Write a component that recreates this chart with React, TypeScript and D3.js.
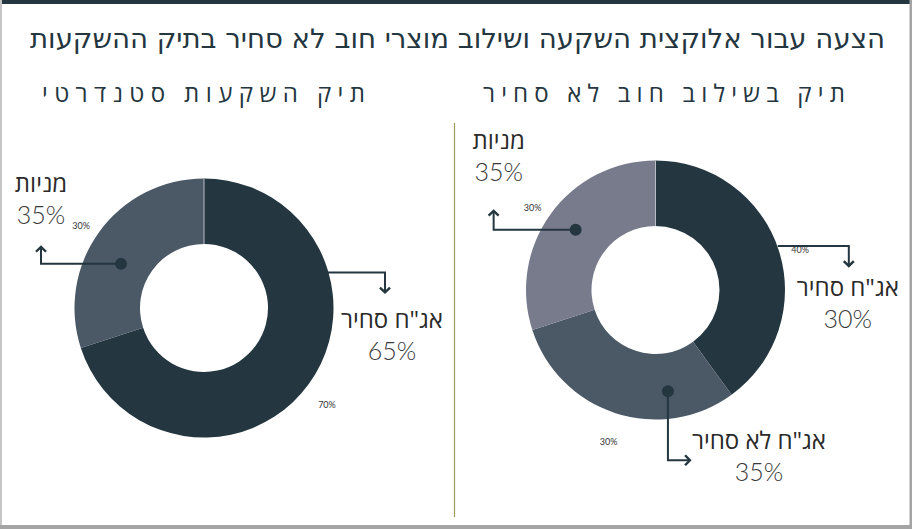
import React from "react";
import * as d3 from "d3";

const title = "הצעה עבור אלוקצית השקעה ושילוב מוצרי חוב לא סחיר בתיק ההשקעות";

const leftTitle = "תיק השקעות סטנדרטי";
const leftNames = ["אג\"ח סחיר", "מניות"];
const leftValues = [70, 30];
const leftShown = ["65%", "35%"];

const rightTitle = "תיק בשילוב חוב לא סחיר";
const rightNames = ["אג\"ח סחיר", "אג\"ח לא סחיר", "מניות"];
const rightValues = [40, 30, 30];
const rightShown = ["30%", "35%", "35%"];

const leftColors = ["#243640", "#4b5866"];
const rightColors = ["#243640", "#4b5866", "#787b8c"];

const INK = "#243640";
const HEB = "'Open Sans', 'DejaVu Sans', sans-serif";
const NUM = "Lato, 'Open Sans', sans-serif";

type Conn = {
  angle: number; // degrees clockwise from top
  r: number;
  dot: boolean;
  legs: [number, number][]; // relative moves
  label: [number, number]; // label center offset from tip (name baseline)
};

const leftConns: Conn[] = [
  { angle: 74, r: 129, dot: false, legs: [[57, 0], [0, 20]], label: [7, 36] },
  { angle: 298, r: 94, dot: true, legs: [[-80, 0], [0, -17]], label: [0, -55] },
];
const rightConns: Conn[] = [
  { angle: 70.2, r: 130, dot: false, legs: [[71, 0], [0, 20]], label: [-1, 30] },
  { angle: 173, r: 102, dot: true, legs: [[0, 69], [22, 0]], label: [69, -11] },
  { angle: 307, r: 100, dot: true, legs: [[-82, 0], [0, -19]], label: [5, -62] },
];

function Donut({ cx, cy, values, colors, names, shown, conns }: {
  cx: number; cy: number; values: number[]; colors: string[]; names: string[]; shown: string[]; conns: Conn[];
}) {
  const pie = d3.pie<number>().sort(null).value((d) => d).startAngle(0).endAngle(2 * Math.PI);
  const arcs = pie(values);
  const arc = d3.arc<d3.PieArcDatum<number>>().innerRadius(64).outerRadius(129.5);
  const labelArc = d3.arc<d3.PieArcDatum<number>>().innerRadius(152).outerRadius(152);
  const pt = (deg: number, r: number): [number, number] => {
    const a = (deg * Math.PI) / 180;
    return [cx + r * Math.sin(a), cy - r * Math.cos(a)];
  };
  return (
    <g>
      {arcs.map((a, i) => (
        <path key={i} d={arc(a) || ""} transform={`translate(${cx},${cy})`} fill={colors[i]} />
      ))}
      <line x1={cx} x2={cx} y1={cy - 129.5} y2={cy - 64} stroke="#b8bcc6" strokeWidth={1} />
      {arcs.map((a, i) => {
        const [lx, ly] = labelArc.centroid(a);
        return (
          <text key={"s" + i} x={cx + lx} y={cy + ly + 8} fontSize={9} fontFamily={NUM} fill="#333" textAnchor="middle" dominantBaseline="middle">
            {`${values[i]}%`}
          </text>
        );
      })}
      {conns.map((c, i) => {
        const start = pt(c.angle, c.r);
        const pts: [number, number][] = [start];
        let cur = start;
        c.legs.forEach(([dx, dy]) => {
          cur = [cur[0] + dx, cur[1] + dy];
          pts.push(cur);
        });
        const tip = pts[pts.length - 1];
        const prev = pts[pts.length - 2];
        const dir = Math.atan2(tip[1] - prev[1], tip[0] - prev[0]);
        const h = 7;
        const w1 = [tip[0] - h * Math.cos(dir - 0.8), tip[1] - h * Math.sin(dir - 0.8)];
        const w2 = [tip[0] - h * Math.cos(dir + 0.8), tip[1] - h * Math.sin(dir + 0.8)];
        const line = d3.line()(pts) || "";
        return (
          <g key={"c" + i}>
            <path d={line} fill="none" stroke={INK} strokeWidth={2} />
            <path d={`M${w1[0]},${w1[1]}L${tip[0]},${tip[1]}L${w2[0]},${w2[1]}`} fill="none" stroke={INK} strokeWidth={2.4} />
            {c.dot && <circle cx={start[0]} cy={start[1]} r={6} fill={INK} />}
            <text x={tip[0] + c.label[0]} y={tip[1] + c.label[1]} fontSize={24} fontFamily={HEB} fill="#2a2a2a" textAnchor="middle" direction="rtl">
              {names[i]}
            </text>
            <text x={tip[0] + c.label[0]} y={tip[1] + c.label[1] + 32} fontSize={25} fontFamily={NUM} fontWeight={300} fill="#3a3a3a" textAnchor="middle">
              {shown[i]}
            </text>
          </g>
        );
      })}
    </g>
  );
}

export default function App() {
  return (
    <svg width={912} height={529} style={{ position: "absolute", left: 0, top: 0, background: "#fff" }}>
      <rect x={0} y={0} width={912} height={529} fill="#fff" />
      <rect x={0} y={0} width={912} height={4} fill="#243640" />
      <rect x={0} y={0} width={2} height={529} fill="#c4c4c4" />
      <rect x={909.5} y={0} width={2.5} height={529} fill="#a4a4a4" />
      <rect x={0} y={525} width={912} height={4} fill="#a4a4a4" />
      <text x={457.5} y={48} fontSize={27} fontFamily="'Liberation Sans Narrow', 'DejaVu Sans Condensed', sans-serif" fill="#243640" textAnchor="middle" direction="rtl" textLength={855} lengthAdjust="spacingAndGlyphs">
        {title}
      </text>
      <text x={664} y={102} fontSize={24} fontFamily={HEB} fill="#243640" textAnchor="middle" direction="rtl" textLength={362} lengthAdjust="spacing">
        {rightTitle}
      </text>
      <text x={203.5} y={102} fontSize={24} fontFamily={HEB} fill="#243640" textAnchor="middle" direction="rtl" textLength={323} lengthAdjust="spacing">
        {leftTitle}
      </text>
      <line x1={454.5} x2={454.5} y1={123} y2={517} stroke="#9c9c5a" strokeWidth={1.2} />
      <Donut cx={204} cy={308} values={leftValues} colors={leftColors} names={leftNames} shown={leftShown} conns={leftConns} />
      <Donut cx={655.5} cy={290} values={rightValues} colors={rightColors} names={rightNames} shown={rightShown} conns={rightConns} />
    </svg>
  );
}
